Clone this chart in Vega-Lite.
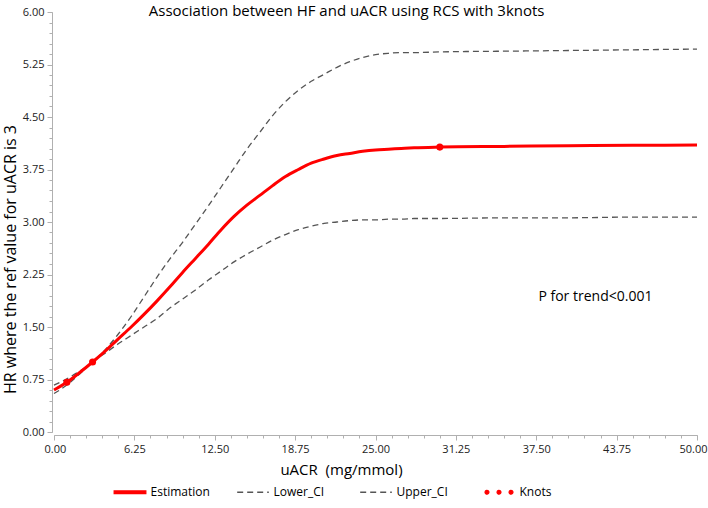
{
  "$schema": "https://vega.github.io/schema/vega-lite/v6.json",
  "width": 643,
  "height": 420,
  "autosize": {"type": "none"},
  "padding": {"left": 54, "top": 12, "right": 11, "bottom": 76},
  "background": "white",
  "title": {
    "text": "Association between HF and uACR using RCS with 3knots",
    "font": "Open Sans",
    "fontSize": 15,
    "fontWeight": "normal",
    "color": "#000000",
    "anchor": "middle",
    "frame": "bounds",
    "offset": -13,
    "dx": -8
  },
  "config": {
    "view": {"stroke": null},
    "axis": {
      "labelFont": "Open Sans",
      "labelFontSize": 11,
      "labelColor": "#222222",
      "labelFlush": false,
      "titleFont": "Open Sans",
      "titleFontSize": 15,
      "titleFontWeight": "normal",
      "titleColor": "#000000",
      "domainColor": "#b0b0b0",
      "tickColor": "#b0b0b0",
      "grid": false
    }
  },
  "datasets": {
    "curves": [
      {"uACR": 0, "Estimation": 0.60, "Lower_CI": 0.55, "Upper_CI": 0.67},
      {"uACR": 1, "Estimation": 0.71, "Lower_CI": 0.67, "Upper_CI": 0.76},
      {"uACR": 2, "Estimation": 0.85, "Lower_CI": 0.83, "Upper_CI": 0.87},
      {"uACR": 3, "Estimation": 1.00, "Lower_CI": 1.00, "Upper_CI": 1.00},
      {"uACR": 4, "Estimation": 1.16, "Lower_CI": 1.13, "Upper_CI": 1.18},
      {"uACR": 5, "Estimation": 1.33, "Lower_CI": 1.26, "Upper_CI": 1.40},
      {"uACR": 6, "Estimation": 1.50, "Lower_CI": 1.38, "Upper_CI": 1.65},
      {"uACR": 7, "Estimation": 1.68, "Lower_CI": 1.50, "Upper_CI": 1.93},
      {"uACR": 8, "Estimation": 1.87, "Lower_CI": 1.62, "Upper_CI": 2.21},
      {"uACR": 9, "Estimation": 2.07, "Lower_CI": 1.77, "Upper_CI": 2.47},
      {"uACR": 10, "Estimation": 2.28, "Lower_CI": 1.90, "Upper_CI": 2.71},
      {"uACR": 11, "Estimation": 2.48, "Lower_CI": 2.03, "Upper_CI": 2.97},
      {"uACR": 12, "Estimation": 2.68, "Lower_CI": 2.17, "Upper_CI": 3.23},
      {"uACR": 13, "Estimation": 2.89, "Lower_CI": 2.30, "Upper_CI": 3.50},
      {"uACR": 14, "Estimation": 3.08, "Lower_CI": 2.43, "Upper_CI": 3.77},
      {"uACR": 15, "Estimation": 3.24, "Lower_CI": 2.54, "Upper_CI": 4.04},
      {"uACR": 16, "Estimation": 3.38, "Lower_CI": 2.64, "Upper_CI": 4.28},
      {"uACR": 17, "Estimation": 3.52, "Lower_CI": 2.74, "Upper_CI": 4.52},
      {"uACR": 18, "Estimation": 3.65, "Lower_CI": 2.82, "Upper_CI": 4.72},
      {"uACR": 19, "Estimation": 3.75, "Lower_CI": 2.89, "Upper_CI": 4.88},
      {"uACR": 20, "Estimation": 3.84, "Lower_CI": 2.94, "Upper_CI": 5.01},
      {"uACR": 21, "Estimation": 3.90, "Lower_CI": 2.98, "Upper_CI": 5.11},
      {"uACR": 22, "Estimation": 3.95, "Lower_CI": 3.00, "Upper_CI": 5.21},
      {"uACR": 23, "Estimation": 3.98, "Lower_CI": 3.02, "Upper_CI": 5.29},
      {"uACR": 24, "Estimation": 4.01, "Lower_CI": 3.03, "Upper_CI": 5.35},
      {"uACR": 25, "Estimation": 4.03, "Lower_CI": 3.03, "Upper_CI": 5.39},
      {"uACR": 26, "Estimation": 4.04, "Lower_CI": 3.04, "Upper_CI": 5.41},
      {"uACR": 27, "Estimation": 4.05, "Lower_CI": 3.04, "Upper_CI": 5.42},
      {"uACR": 28, "Estimation": 4.06, "Lower_CI": 3.05, "Upper_CI": 5.42},
      {"uACR": 30, "Estimation": 4.07, "Lower_CI": 3.05, "Upper_CI": 5.43},
      {"uACR": 35, "Estimation": 4.08, "Lower_CI": 3.06, "Upper_CI": 5.44},
      {"uACR": 40, "Estimation": 4.09, "Lower_CI": 3.06, "Upper_CI": 5.45},
      {"uACR": 45, "Estimation": 4.095, "Lower_CI": 3.07, "Upper_CI": 5.46},
      {"uACR": 50, "Estimation": 4.10, "Lower_CI": 3.07, "Upper_CI": 5.47}
    ],
    "knots": [
      {"uACR": 1, "HR": 0.71, "series": "Knots"},
      {"uACR": 3, "HR": 1.00, "series": "Knots"},
      {"uACR": 30, "HR": 4.07, "series": "Knots"}
    ],
    "note": [
      {"uACR": 42.1, "HR": 1.93, "label": "P for trend<0.001"}
    ]
  },
  "resolve": {"axis": {"x": "independent", "y": "independent"}},
  "layer": [
    {
      "data": {"name": "curves"},
      "transform": [{"fold": ["Lower_CI", "Upper_CI"], "as": ["series", "HR"]}],
      "mark": {"type": "line", "interpolate": "monotone", "strokeWidth": 1.3, "strokeDash": [6, 4]},
      "encoding": {
        "x": {
          "field": "uACR", "type": "quantitative",
          "scale": {"domain": [0, 50], "nice": false, "zero": false, "padding": 0},
          "axis": {
            "title": "uACR\u00a0\u00a0(mg/mmol)",
            "values": [0, 6.25, 12.5, 18.75, 25, 31.25, 37.5, 43.75, 50],
            "format": ".2f",
            "orient": "bottom",
            "offset": 3,
            "tickSize": 5,
            "labelPadding": 3,
            "labelFlush": true,
            "labelFlushOffset": 10,
            "titlePadding": 8,
            "titleX": 287,
            "titleAnchor": null
          }
        },
        "y": {
          "field": "HR", "type": "quantitative",
          "scale": {"domain": [0, 6], "nice": false, "zero": false, "padding": 0},
          "axis": {
            "title": "HR where the ref value for uACR is 3",
            "titleFontSize": 16,
            "values": [0, 0.75, 1.5, 2.25, 3, 3.75, 4.5, 5.25, 6],
            "format": ".2f",
            "orient": "left",
            "offset": 2,
            "tickSize": 5,
            "labelPadding": 3,
            "titlePadding": 4,
            "titleY": 247,
            "titleAnchor": null
          }
        },
        "color": {
          "field": "series", "type": "nominal",
          "scale": {
            "domain": ["Estimation", "Lower_CI", "Upper_CI", "Knots"],
            "range": ["#ff0000", "#555555", "#555555", "#ff0000"]
          },
          "legend": {
            "title": null,
            "orient": "none",
            "direction": "horizontal",
            "legendX": 59.5,
            "legendY": 463.5,
            "padding": 0,
            "gridAlign": "all",
            "symbolSize": 1000,
            "symbolType": "M-1,0H1",
            "symbolStrokeWidth": 1.3,
            "labelFont": "Open Sans",
            "labelFontSize": 12,
            "labelColor": "#000000",
            "labelOffset": 4,
            "columnPadding": 24,
            "encode": {
              "symbols": {
                "update": {
                  "shape": {"signal": "datum.value === 'Knots' ? 'M-0.88,0a0.12,0.12 0 1,0 0.24,0a0.12,0.12 0 1,0 -0.24,0zM-0.12,0a0.12,0.12 0 1,0 0.24,0a0.12,0.12 0 1,0 -0.24,0zM0.64,0a0.12,0.12 0 1,0 0.24,0a0.12,0.12 0 1,0 -0.24,0z' : (datum.value === 'Estimation' ? 'M-1,-0.085H1V0.085H-1Z' : 'M-1,0H1')"},
                  "fill": {"signal": "datum.value === 'Lower_CI' || datum.value === 'Upper_CI' ? 'transparent' : '#ff0000'"},
                  "stroke": {"signal": "datum.value === 'Lower_CI' || datum.value === 'Upper_CI' ? '#555555' : 'transparent'"},
                  "strokeDash": {"signal": "datum.value === 'Lower_CI' || datum.value === 'Upper_CI' ? [6, 4] : [1, 0]"},
                  "opacity": {"value": 1}
                }
              }
            }
          }
        }
      }
    },
    {
      "data": {"name": "curves"},
      "transform": [{"fold": ["Estimation"], "as": ["series", "HR"]}],
      "mark": {"type": "line", "interpolate": "monotone", "strokeWidth": 3},
      "encoding": {
        "x": {"field": "uACR", "type": "quantitative", "axis": null},
        "y": {"field": "HR", "type": "quantitative", "axis": null},
        "color": {"field": "series", "type": "nominal"}
      }
    },
    {
      "data": {"name": "knots"},
      "mark": {"type": "point", "filled": true, "opacity": 1, "size": 50},
      "encoding": {
        "x": {"field": "uACR", "type": "quantitative", "axis": null},
        "y": {"field": "HR", "type": "quantitative", "axis": null},
        "color": {"field": "series", "type": "nominal"}
      }
    },
    {
      "mark": {"type": "rule", "color": "#2ea02e", "strokeWidth": 1.3, "strokeDash": [7, 4]},
      "encoding": {"y": {"datum": 1, "type": "quantitative", "axis": null}}
    },
    {
      "data": {"name": "note"},
      "mark": {"type": "text", "font": "Open Sans", "fontSize": 14, "color": "#000000", "align": "center", "baseline": "middle"},
      "encoding": {
        "x": {
          "field": "uACR", "type": "quantitative",
          "axis": {
            "title": null, "labels": false, "domain": false, "orient": "bottom", "offset": 3, "tickSize": 3,
            "values": [0, 1.25, 2.5, 3.75, 5, 6.25, 7.5, 8.75, 10, 11.25, 12.5, 13.75, 15, 16.25, 17.5, 18.75, 20, 21.25, 22.5, 23.75, 25, 26.25, 27.5, 28.75, 30, 31.25, 32.5, 33.75, 35, 36.25, 37.5, 38.75, 40, 41.25, 42.5, 43.75, 45, 46.25, 47.5, 48.75, 50]
          }
        },
        "y": {
          "field": "HR", "type": "quantitative",
          "axis": {
            "title": null, "labels": false, "domain": false, "orient": "left", "offset": 2, "tickSize": 3,
            "values": [0, 0.15, 0.3, 0.45, 0.6, 0.75, 0.9, 1.05, 1.2, 1.35, 1.5, 1.65, 1.8, 1.95, 2.1, 2.25, 2.4, 2.55, 2.7, 2.85, 3, 3.15, 3.3, 3.45, 3.6, 3.75, 3.9, 4.05, 4.2, 4.35, 4.5, 4.65, 4.8, 4.95, 5.1, 5.25, 5.4, 5.55, 5.7, 5.85, 6]
          }
        },
        "text": {"field": "label", "type": "nominal"}
      }
    }
  ]
}
